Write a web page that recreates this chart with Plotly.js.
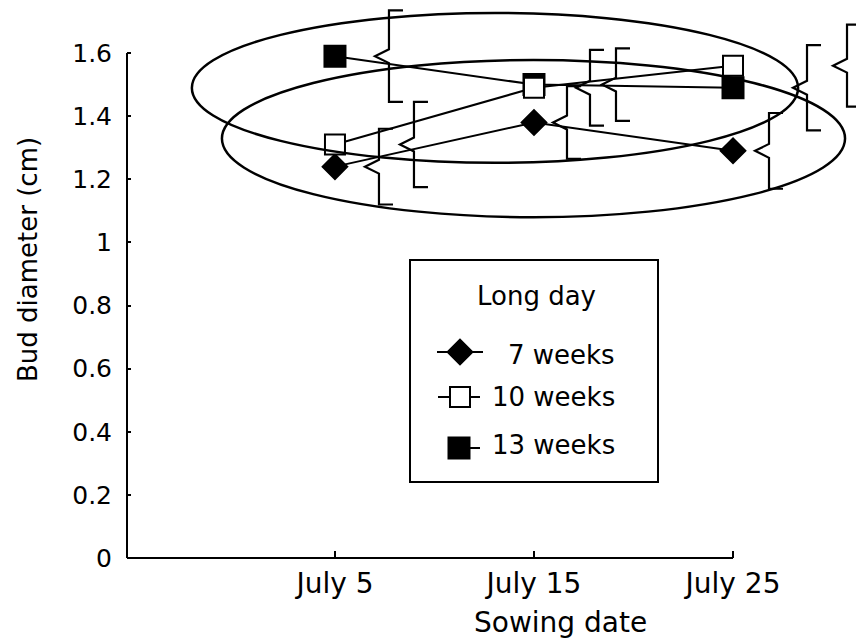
<!DOCTYPE html>
<html>
<head>
<meta charset="utf-8">
<script src="https://cdn.plot.ly/plotly-3.0.1.min.js"></script>
<style>
  html, body { margin: 0; padding: 0; background: #fff; }
  #chart { width: 856px; height: 644px; }
</style>
</head>
<body>
<div id="chart"></div>
<script>
// Sowing dates (day of July) and their tick labels
const sowingDay = [5, 15, 25];
const sowingLabels = ['July 5', 'July 15', 'July 25'];

// Mean bud diameter (cm) for each long-day duration
const seriesNames = ['7 weeks', '10 weeks', '13 weeks'];
const budWeeks7  = [1.24, 1.38, 1.29];
const budWeeks10 = [1.31, 1.49, 1.56];
const budWeeks13 = [1.59, 1.50, 1.49];

// Half-range of the error brackets (cm)
const errWeeks7  = [0.12, 0.115, 0.12];
const errWeeks10 = [0.135, 0.12, 0.13];
const errWeeks13 = [0.145, 0.115, 0.135];

// Y axis ticks
const yTickVals = [0, 0.2, 0.4, 0.6, 0.8, 1, 1.2, 1.4, 1.6];
const yTickText = ['0', '0.2', '0.4', '0.6', '0.8', '1', '1.2', '1.4', '1.6'];

const legendTitle = 'Long day';
const xTitle = 'Sowing date';
const yTitle = 'Bud diameter (cm)';

// ---- layout geometry ----
const W = 856, H = 644;
const M = { l: 127, r: 0, t: 0, b: 86 };
const X_RANGE = [-5.45, 31.18];
const Y_RANGE = [0, 1.768];
const X_AXIS_END = 25;   // drawn x axis stops at the last sowing date
const Y_AXIS_END = 1.6;  // drawn y axis stops at the top tick
const FONT = 'DejaVu Sans, Arial, sans-serif';
const INK = '#000';

const plotW = W - M.l - M.r, plotH = H - M.t - M.b;
const paperX = px => (px - M.l) / plotW;
const paperY = py => (H - M.b - py) / plotH;

// marker look and the horizontal shift (px) of each bracket
const seriesStyle = [
  { symbol: 'diamond', fill: INK,    size: 19, bracketShift: [44, 33, 36] },
  { symbol: 'square',  fill: '#fff', size: 20, bracketShift: [79, 56, 114] },
  { symbol: 'square',  fill: INK,    size: 21, bracketShift: [54, 82, 74] }
];
const values = [budWeeks7, budWeeks10, budWeeks13];
const errors = [errWeeks7, errWeeks10, errWeeks13];
const drawOrder = [2, 0, 1];

// two hand-drawn ovals around the upper clusters (data units)
const rings = [
  { x0: -2.19, x1: 28.27, y0: 1.252, y1: 1.727 },
  { x0: -0.68, x1: 30.63, y0: 1.080, y1: 1.578 }
];

// legend block, in pixel units of the overlay axes
const legendBox = { x0: 410, x1: 658, y0: 260, y1: 482 };
const legendTitlePos = { x: 536, y: 296 };
const legendRows = [
  { markerX: 460, y: 352, lineX: [437, 483], textY: 355 },
  { markerX: 460, y: 397, lineX: [438, 480], textY: 397 },
  { markerX: 459, y: 448, lineX: [449, 480], textY: 445 }
];
const legendTextRight = 617;

const traces = drawOrder.map(i => ({
  type: 'scatter',
  mode: 'lines+markers',
  x: sowingDay,
  y: values[i],
  name: seriesNames[i],
  line: { color: INK, width: 2 },
  marker: {
    symbol: seriesStyle[i].symbol,
    size: seriesStyle[i].size,
    color: seriesStyle[i].fill,
    opacity: 1,
    line: { color: INK, width: 2 }
  },
  cliponaxis: false,
  showlegend: false,
  hoverinfo: 'skip'
}));

// legend sample lines, then the sample markers on top
legendRows.forEach(r => traces.push({
  type: 'scatter', mode: 'lines',
  xaxis: 'x2', yaxis: 'y2',
  x: r.lineX, y: [r.y, r.y],
  line: { color: INK, width: 2 },
  showlegend: false, hoverinfo: 'skip'
}));
legendRows.forEach((r, i) => traces.push({
  type: 'scatter', mode: 'markers',
  xaxis: 'x2', yaxis: 'y2',
  x: [r.markerX], y: [r.y],
  marker: {
    symbol: seriesStyle[i].symbol,
    size: seriesStyle[i].size,
    color: seriesStyle[i].fill,
    opacity: 1,
    line: { color: INK, width: 2 }
  },
  showlegend: false, hoverinfo: 'skip'
}));

const shapes = [];

// axis lines, stopping at the last tick on each axis
shapes.push({
  type: 'line', xref: 'paper', yref: 'paper',
  x0: 0, x1: (X_AXIS_END - X_RANGE[0]) / (X_RANGE[1] - X_RANGE[0]), y0: 0, y1: 0,
  line: { color: INK, width: 2 }
});
shapes.push({
  type: 'line', xref: 'paper', yref: 'paper',
  x0: 0, x1: 0, y0: 0, y1: (Y_AXIS_END - Y_RANGE[0]) / (Y_RANGE[1] - Y_RANGE[0]),
  line: { color: INK, width: 2 }
});

// ovals
rings.forEach(r => shapes.push({
  type: 'circle', xref: 'x', yref: 'y',
  x0: r.x0, x1: r.x1, y0: r.y0, y1: r.y1,
  line: { color: INK, width: 2.5 }, layer: 'above'
}));

// brace-shaped error brackets, set to the right of each point
const SERIF = 14, NOTCH_W = 14, NOTCH_H = 0.022;
values.forEach((vals, i) => vals.forEach((v, j) => {
  const o = seriesStyle[i].bracketShift[j];
  const top = v + errors[i][j], bot = v - errors[i][j];
  shapes.push({
    type: 'path', xref: 'x', yref: 'y',
    xsizemode: 'pixel', xanchor: sowingDay[j],
    path: `M${o + SERIF},${top} L${o},${top} L${o},${v + NOTCH_H} L${o - NOTCH_W},${v} ` +
          `L${o},${v - NOTCH_H} L${o},${bot} L${o + SERIF},${bot}`,
    line: { color: INK, width: 2.2 }, layer: 'above'
  });
}));

// legend frame
shapes.push({
  type: 'rect', xref: 'paper', yref: 'paper',
  x0: paperX(legendBox.x0), x1: paperX(legendBox.x1),
  y0: paperY(legendBox.y1), y1: paperY(legendBox.y0),
  line: { color: INK, width: 2 }, layer: 'above'
});

const annotations = [];
annotations.push({
  xref: 'x2', yref: 'y2', x: legendTitlePos.x, y: legendTitlePos.y,
  text: legendTitle, showarrow: false, xanchor: 'center', yanchor: 'middle',
  font: { family: FONT, size: 26, color: INK }
});
legendRows.forEach((r, i) => annotations.push({
  xref: 'x2', yref: 'y2', x: legendTextRight, y: r.textY,
  text: seriesNames[i], showarrow: false, xanchor: 'right', yanchor: 'middle',
  font: { family: FONT, size: 26, color: INK }
}));
annotations.push({
  xref: 'paper', yref: 'paper', x: paperX(560), y: paperY(622),
  text: xTitle, showarrow: false, xanchor: 'center', yanchor: 'middle',
  font: { family: FONT, size: 28, color: INK }
});
annotations.push({
  xref: 'paper', yref: 'paper', x: paperX(28), y: paperY(260),
  text: yTitle, showarrow: false, textangle: -90, xanchor: 'center', yanchor: 'middle',
  font: { family: FONT, size: 26, color: INK }
});

const layout = {
  width: W, height: H,
  margin: M,
  paper_bgcolor: '#fff', plot_bgcolor: '#fff',
  showlegend: false,
  font: { family: FONT, color: INK },
  xaxis: {
    range: X_RANGE, showgrid: false, zeroline: false, showline: false,
    tickmode: 'array', tickvals: sowingDay, ticktext: sowingLabels,
    ticks: 'inside', ticklen: 7, tickwidth: 2, tickcolor: INK,
    ticklabelstandoff: 6,
    tickfont: { family: FONT, size: 28, color: INK },
    fixedrange: true
  },
  yaxis: {
    range: Y_RANGE, showgrid: false, zeroline: false, showline: false,
    tickmode: 'array', tickvals: yTickVals, ticktext: yTickText,
    ticks: 'inside', ticklen: 4, tickwidth: 2, tickcolor: INK,
    ticklabelstandoff: 14,
    tickfont: { family: FONT, size: 25, color: INK },
    fixedrange: true
  },
  xaxis2: { overlaying: 'x', anchor: 'y2', range: [M.l, W - M.r], visible: false, fixedrange: true },
  yaxis2: { overlaying: 'y', anchor: 'x2', range: [H - M.b, M.t], visible: false, fixedrange: true },
  shapes: shapes,
  annotations: annotations
};

Plotly.newPlot('chart', traces, layout, { staticPlot: true, displayModeBar: false });
</script>
</body>
</html>
